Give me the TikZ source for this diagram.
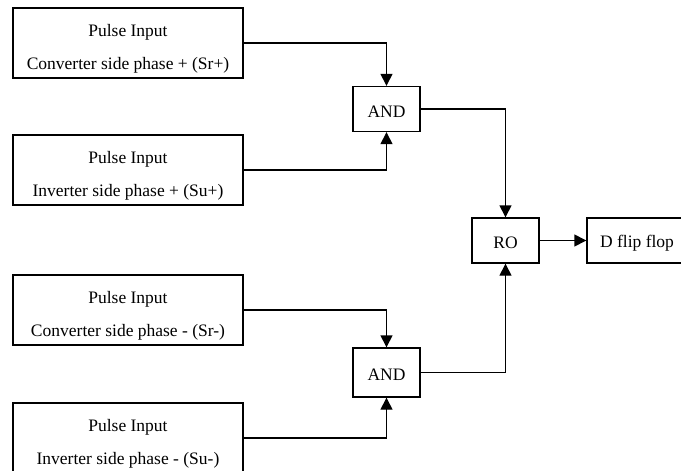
\documentclass[tikz,border=0pt]{standalone}
\usepackage{fontspec}
\setmainfont{Liberation Serif}
\usetikzlibrary{arrows.meta}
% two-line label of an input box
\newcommand{\pulsetext}[1]{\rule{0pt}{23pt}Pulse Input\\#1}
\begin{document}
\begin{tikzpicture}[
        x=1pt, y=-1pt,
        every node/.style={draw, line width=1.4pt, inner sep=0pt, text centered,
            font=\fontsize{17.5}{33}\selectfont},
        pulse/.style={minimum width=230pt, minimum height=70pt, align=center},
        gate/.style={minimum width=67pt, minimum height=45pt,
            execute at begin node={\rule{0pt}{17pt}}},
        wire/.style={draw, line width=1.4pt, -{Triangle[length=12pt,width=12pt]}},
    ]
    \useasboundingbox (0,0) rectangle (681,471);
    % pulse inputs
    \node[pulse](srp) at (128,43) {\pulsetext{Converter side phase + (Sr+)}};
    \node[pulse](sup) at (128,170) {\pulsetext{Inverter side phase + (Su+)}};
    \node[pulse](srm) at (128,310) {\pulsetext{Converter side phase - (Sr-)}};
    \node[pulse](sum) at (128,438) {\pulsetext{Inverter side phase - (Su-)}};
    % logic
    \node[gate](and1) at (386.5,109) {AND};
    \node[gate, minimum height=49pt](and2) at (386.5,372.5) {AND};
    \node[gate](ro) at (505.5,240.5) {RO};
    \node[gate, minimum width=100pt](dff) at (637,240.5) {D flip flop};

    \draw[wire] (srp.east) -| (and1.north);
    \draw[wire] (sup.east) -| (and1.south);
    \draw[wire] (srm.east) -| (and2.north);
    \draw[wire] (sum.east) -| (and2.south);
    \draw[wire] (and1.east) -| (ro.north);
    \draw[wire] (and2.east) -| (ro.south);
    \draw[wire] (ro) -- (dff);
\end{tikzpicture}
\end{document}
